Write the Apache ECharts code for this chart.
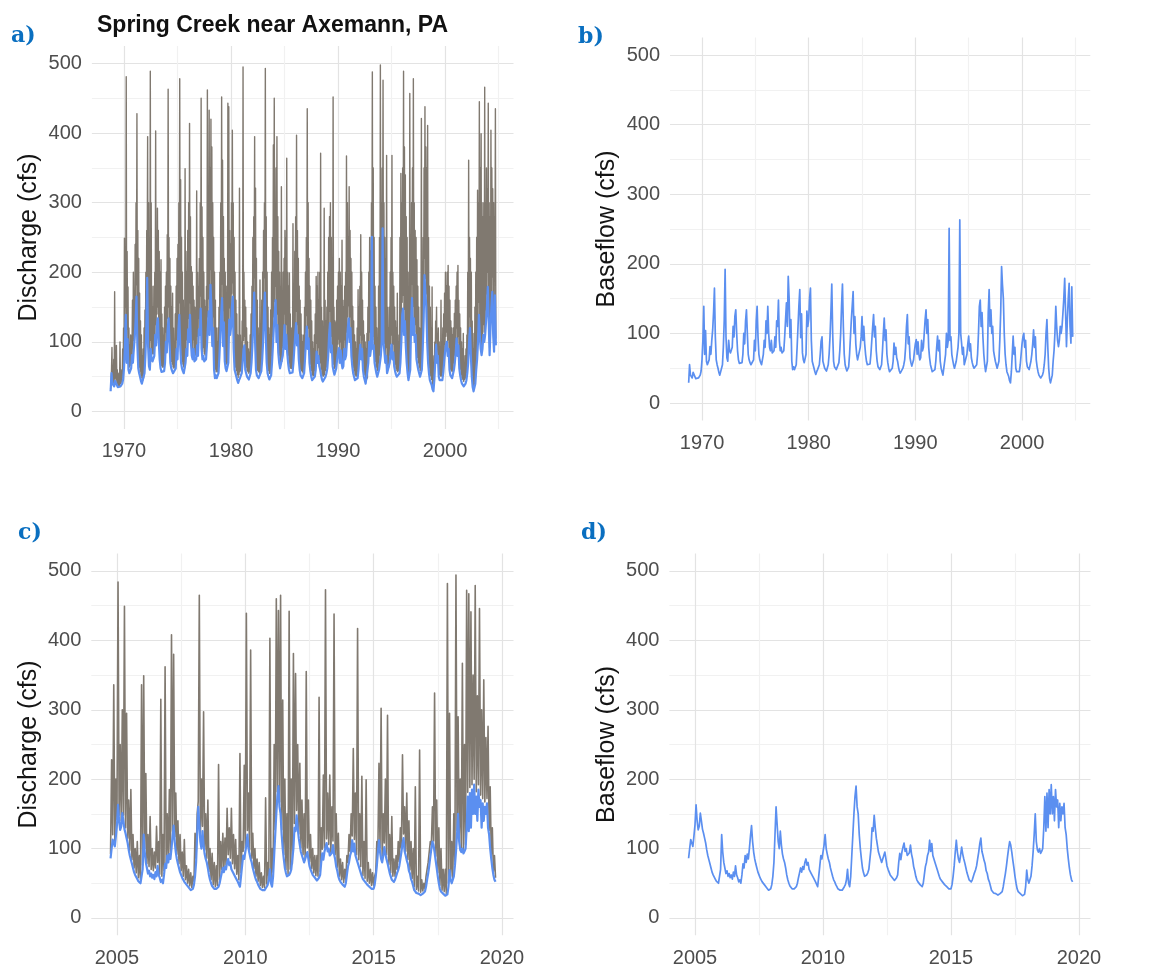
<!DOCTYPE html>
<html>
<head>
<meta charset="utf-8">
<script src="https://cdn.jsdelivr.net/npm/echarts@6/dist/echarts.min.js"></script>
<style>
  html, body { margin: 0; padding: 0; background: #ffffff; }
  #chart { width: 1161px; height: 971px; }
</style>
</head>
<body>
<div id="chart"></div>
<script>
// Spring Creek near Axemann, PA — discharge and baseflow, two record periods.
// Each row is one water year (October through September).

const earlyStart = 1968.75;   // 1 Oct 1968
const lateStart = 2004.75;    // 1 Oct 2004

// Discharge 1969–2004, two readings per month (cfs)
const dischargeEarly = [
  [33,45,60,92,45,60,42,75,40,172,48,70,46,95,42,60,38,55,37,45,36,100,40,50],
  [42,60,48,90,55,120,72,249,100,210,150,481,80,230,118,179,70,120,64,95,66,110,72,100],
  [92,160,80,200,102,170,118,240,146,300,182,428,108,260,72,220,64,170,58,130,52,110,48,80],
  [45,90,48,120,64,146,92,200,132,260,210,395,108,300,75,250,70,489,102,300,86,180,83,150],
  [83,180,92,200,125,403,108,250,140,292,150,260,114,230,86,200,72,218,66,140,64,120,64,110],
  [68,150,81,180,114,200,98,254,134,463,150,250,114,220,81,180,72,150,68,170,64,120,62,100],
  [64,140,72,180,103,220,86,240,134,300,156,478,108,333,81,250,72,200,68,160,64,150,62,349],
  [81,230,103,200,92,260,134,300,114,414,156,280,114,208,92,200,86,180,103,160,83,150,81,140],
  [86,317,108,200,92,180,134,220,125,300,166,450,103,294,86,250,92,200,83,160,81,150,86,180],
  [108,462,136,300,162,433,125,350,204,420,169,380,107,300,136,250,70,200,57,160,61,120,57,100],
  [57,120,64,150,92,200,125,300,158,452,183,361,107,280,145,220,83,200,72,180,68,150,70,443],
  [81,438,149,260,125,240,136,300,169,404,185,300,103,250,70,200,64,160,59,140,53,110,49,100],
  [53,321,57,110,59,100,64,130,81,495,102,200,108,160,70,150,64,120,59,100,57,90,55,85],
  [57,110,64,140,81,180,108,250,147,280,192,395,114,321,70,220,61,160,59,120,57,100,55,189],
  [57,120,68,160,86,200,114,260,158,300,192,493,125,280,81,200,64,150,59,120,55,110,55,146],
  [61,200,81,250,108,383,136,450,158,300,180,350,114,395,140,280,97,230,81,200,72,180,70,323],
  [72,160,92,200,108,220,140,260,103,250,125,364,97,200,81,180,70,199,64,140,62,120,62,110],
  [65,270,81,180,103,230,125,280,144,397,108,260,125,220,86,180,70,160,61,140,59,110,57,100],
  [55,110,64,150,86,200,114,250,138,435,103,300,120,220,81,180,68,160,59,130,53,100,51,90],
  [52,110,59,140,70,194,98,180,81,200,92,160,75,200,70,371,61,150,54,130,51,120,51,292],
  [53,160,59,130,64,150,72,200,92,250,125,280,144,300,97,250,108,220,75,452,68,150,62,130],
  [64,127,72,160,86,180,97,200,104,220,81,200,100,180,81,246,72,160,75,150,103,180,86,200],
  [92,367,114,300,136,250,152,323,114,260,136,220,92,200,75,151,64,130,59,110,53,100,51,90],
  [51,120,57,175,70,150,92,180,110,254,86,200,103,160,70,130,59,110,53,100,48,90,46,112],
  [48,150,81,200,114,250,92,230,103,300,200,488,103,350,108,250,81,180,72,150,64,120,59,100],
  [59,180,70,250,81,498,92,300,114,350,200,476,114,300,98,250,81,220,92,368,64,150,62,120],
  [64,150,81,200,97,250,110,368,86,200,97,180,75,150,68,130,62,120,59,170,57,100,59,110],
  [64,250,81,342,114,300,157,350,167,489,125,380,147,340,108,280,81,250,64,200,53,180,51,457],
  [70,250,147,300,183,350,125,478,151,300,114,260,125,250,86,218,78,180,70,150,64,120,59,110],
  [59,421,70,200,103,250,147,350,220,438,191,380,169,350,114,411,81,250,64,180,53,150,51,120],
  [46,179,39,80,36,60,53,100,81,130,110,150,81,103,92,120,59,100,53,90,51,160,51,100],
  [53,120,64,140,81,170,97,200,108,180,114,200,92,210,103,180,70,160,61,130,59,120,57,110],
  [59,120,70,141,81,160,97,180,120,200,92,210,108,160,72,140,61,120,53,100,48,90,46,112],
  [43,70,46,80,48,90,53,110,64,200,81,361,114,250,136,220,92,200,59,130,42,90,36,112],
  [37,150,48,200,70,250,86,318,114,300,157,445,125,350,103,399,92,300,103,280,125,300,114,466],
  [125,300,146,350,169,320,200,443,147,300,92,280,136,404,169,350,193,320,125,300,98,280,188,435],
  [105]
];

// Baseflow 1969–2004, one reading per month (cfs)
const baseflowEarly = [
  [29,55,40,38,36,44,42,38,35,34,33,36],
  [38,40,46,62,90,139,70,104,60,55,57,62],
  [81,70,90,105,130,165,95,62,55,50,44,40],
  [38,40,55,80,118,192,95,65,60,90,75,72],
  [72,80,110,95,125,134,100,75,62,57,55,55],
  [58,70,100,85,118,134,100,70,62,58,55,53],
  [55,62,90,75,118,139,95,70,62,58,55,53],
  [70,90,80,118,100,139,100,80,75,90,72,70],
  [75,95,80,118,110,148,90,75,80,72,70,75],
  [95,120,144,110,182,150,94,120,60,48,52,48],
  [48,55,80,110,140,163,94,128,72,62,58,60],
  [70,132,110,120,150,165,90,60,55,50,45,41],
  [45,48,50,55,70,89,95,60,55,50,48,46],
  [48,55,70,95,130,171,100,60,52,50,48,46],
  [48,58,75,100,140,171,110,70,55,50,46,46],
  [52,70,95,120,140,160,100,124,85,70,62,60],
  [62,80,95,124,90,110,85,70,60,55,53,53],
  [56,70,90,110,127,95,110,75,60,52,50,48],
  [46,55,75,100,122,90,105,70,58,50,45,43],
  [44,50,60,86,70,80,65,60,52,46,43,43],
  [45,50,55,62,80,110,127,85,95,65,58,53],
  [55,62,75,85,91,70,88,70,62,65,90,75],
  [80,100,120,134,100,120,80,65,55,50,45,43],
  [43,48,60,80,96,75,90,60,50,45,40,38],
  [40,70,100,80,90,251,90,95,70,62,55,50],
  [50,60,70,80,100,263,100,86,70,80,55,53],
  [55,70,85,96,75,85,65,58,53,50,48,50],
  [55,70,100,139,148,110,130,95,70,55,45,43],
  [60,130,163,110,134,100,110,75,67,60,55,50],
  [50,60,90,130,196,170,150,100,70,55,45,43],
  [38,32,29,45,70,96,70,80,50,45,43,43],
  [45,55,70,85,95,100,80,90,60,52,50,48],
  [50,60,70,85,105,80,95,62,52,45,40,38],
  [36,38,40,45,55,70,100,120,80,50,35,29],
  [30,40,60,75,100,139,110,90,81,90,110,100],
  [110,129,150,179,130,81,120,150,172,110,86,167],
  [95]
];

// Discharge 2005–2019, two readings per month (cfs)
const dischargeLate = [
  [92,228,120,336,110,200,142,484,148,250,140,300,148,449,130,295,115,170,97,185,84,120,72,100],
  [65,110,58,90,55,336,76,349,100,208,78,120,74,146,70,100,68,95,72,132,80,110,63,315],
  [60,120,68,362,78,150,86,185,92,408,125,380,117,180,92,140,78,120,68,95,60,113,55,75],
  [50,70,46,65,44,60,53,122,86,150,168,465,117,200,132,297,98,150,86,170,67,100,55,93],
  [48,80,45,75,47,221,55,110,70,122,72,115,76,158,91,130,86,158,78,120,71,113,63,90],
  [55,237,65,110,96,220,101,439,126,180,98,386,86,122,71,100,60,85,53,80,47,65,44,60],
  [44,173,49,80,60,403,55,100,66,250,127,460,182,443,167,465,127,314,91,200,70,150,63,442],
  [70,200,78,381,136,352,155,250,121,223,101,170,91,150,84,355,101,170,81,120,71,100,65,90],
  [61,90,60,318,67,130,99,206,101,473,114,180,106,206,94,160,111,438,91,150,73,122,60,85],
  [55,80,51,70,55,90,80,120,96,150,118,244,113,180,91,417,84,150,74,204,61,110,57,199],
  [53,80,50,70,47,65,47,60,66,110,101,223,101,302,86,150,108,200,91,292,77,120,65,146],
  [60,85,60,90,70,110,81,130,101,235,121,160,96,180,84,140,69,110,57,100,45,189,41,60],
  [39,242,37,55,39,50,42,60,60,80,81,110,106,160,111,324,89,170,65,130,47,100,40,70],
  [38,70,35,482,50,295,60,110,57,150,81,494,126,290,116,200,101,367,99,250,106,472,181,467],
  [188,441,192,350,200,479,182,320,192,446,177,300,172,343,167,260,172,276,126,189,90,130,67,90],
  [58]
];

// Baseflow 2005–2019, two readings per month (cfs)
const baseflowLate = [
  [86,100,113,108,103,118,134,163,140,127,132,151,140,128,122,115,108,98,90,84,78,72,66,62],
  [60,56,53,51,50,52,70,120,95,80,72,64,68,60,64,58,62,56,66,60,75,62,58,52],
  [55,50,62,78,72,90,80,92,85,100,118,133,110,95,85,78,72,66,62,58,55,52,50,48],
  [46,44,42,40,40,42,48,60,80,120,160,135,110,100,125,105,92,85,80,72,62,55,50,46],
  [44,42,41,42,43,45,50,58,65,72,66,74,70,80,85,76,80,70,72,64,66,58,58,52],
  [50,45,60,75,90,85,95,105,120,100,92,85,80,72,66,60,55,52,48,45,42,40,40,38],
  [40,42,45,48,55,70,50,45,60,90,120,150,175,190,160,150,120,100,85,72,65,60,58,62],
  [65,70,72,100,130,125,148,130,115,105,95,90,85,80,78,90,95,85,75,70,66,62,60,58],
  [56,54,55,58,62,80,93,84,95,102,108,96,100,90,88,94,105,92,85,74,68,60,55,52],
  [50,48,46,45,50,62,74,80,90,95,112,96,107,90,85,80,78,70,68,60,56,54,52,50],
  [48,46,45,44,42,40,42,48,60,75,95,112,95,85,80,90,102,92,85,79,72,65,60,55],
  [55,52,55,60,65,69,75,85,95,107,115,96,90,83,78,68,64,56,52,46,40,38,36,35],
  [35,34,33,34,35,36,38,45,55,64,75,88,100,110,105,95,83,72,60,50,42,38,36,35],
  [34,32,31,34,45,69,55,50,52,60,75,95,120,150,110,98,95,100,93,96,100,130,175,125],
  [180,130,185,150,192,150,175,140,185,160,170,130,165,140,160,150,165,130,120,100,85,72,62,55],
  [52]
];

const yTicks = [0, 100, 200, 300, 400, 500];
const earlyYearLabels = [1970, 1980, 1990, 2000];
const lateYearLabels = [2005, 2010, 2015, 2020];

// Turn water-year rows into [decimal year, value] pairs
function series(rows, start, perYear) {
  return rows.flat().map((v, i) => [start + i / perYear, v]);
}

const FONT = '"Liberation Sans", Arial, Helvetica, sans-serif';
const MAJOR = '#e3e3e3';
const MINOR = '#f1f1f1';
const CLEAR = 'rgba(0,0,0,0)';
const BROWN = '#807970';
const BLUE = '#5b8ff0';

function near(v, t) { return Math.abs(v - t) < 1e-6; }

function yAxisFor(gridIndex, name) {
  return {
    type: 'value', gridIndex, min: -25, max: 525, interval: 25,
    axisLine: { show: false }, axisTick: { show: false },
    axisLabel: {
      fontFamily: FONT, fontSize: 20, color: '#4d4d4d', margin: 10,
      formatter: v => (yTicks.some(t => near(v, t)) ? String(Math.round(v)) : '')
    },
    // ticks every 25: -25, 0, 25, 50, ... → blank, major, blank, minor
    splitLine: { show: true, lineStyle: { width: 1.2, color: [CLEAR, MAJOR, CLEAR, MINOR] } },
    name, nameLocation: 'middle', nameGap: 50,
    nameTextStyle: { fontFamily: FONT, fontSize: 25, color: '#141414' }
  };
}

function xAxisFor(gridIndex, min, max, interval, colors, labels) {
  return {
    type: 'value', gridIndex, min, max, interval,
    axisLine: { show: false }, axisTick: { show: false },
    axisLabel: {
      fontFamily: FONT, fontSize: 20, color: '#4d4d4d', margin: 13,
      formatter: v => { const hit = labels.find(t => near(v, t)); return hit === undefined ? '' : String(hit); }
    },
    splitLine: { show: true, lineStyle: { width: 1.2, color: colors } }
  };
}

// yearly ticks from 1967: decades major, mid-decades minor
const earlyColors = [CLEAR, CLEAR, CLEAR, MAJOR, CLEAR, CLEAR, CLEAR, CLEAR, MINOR, CLEAR];
// half-year ticks from 2004: 5-year major, 2.5-year minor
const lateColors = [CLEAR, CLEAR, MAJOR, CLEAR, CLEAR, CLEAR, CLEAR, MINOR, CLEAR, CLEAR];

function line(data, xi, color, width, z) {
  return {
    type: 'line', data, xAxisIndex: xi, yAxisIndex: xi,
    showSymbol: false, symbol: 'none', silent: true, animation: false, z,
    lineStyle: { color, width, join: 'round' }
  };
}

const panelLabel = (text, left, top) => ({
  text, left, top,
  textStyle: { fontFamily: '"DejaVu Serif", serif', fontWeight: 'bold', fontSize: 22, color: '#0a6fc0' }
});

const option = {
  backgroundColor: '#ffffff',
  animation: false,
  title: [
    { text: 'Spring Creek near Axemann, PA', left: 92, top: 9,
      textStyle: { fontFamily: FONT, fontWeight: 'bold', fontSize: 23, color: '#111111' } },
    panelLabel('a)', 6, 20),
    panelLabel('b)', 573, 21),
    panelLabel('c)', 13, 517),
    panelLabel('d)', 576, 517)
  ],
  grid: [
    { left: 91.9, top: 46.1, width: 421.6, height: 382.8 },
    { left: 670, top: 37.6, width: 420.3, height: 382.8 },
    { left: 91.3, top: 553.6, width: 422.2, height: 381.7 },
    { left: 669.4, top: 553.6, width: 421.1, height: 381.7 }
  ],
  xAxis: [
    xAxisFor(0, 1967, 2006.4, 1, earlyColors, earlyYearLabels),
    xAxisFor(1, 1967, 2006.4, 1, earlyColors, earlyYearLabels),
    xAxisFor(2, 2004, 2020.45, 0.5, lateColors, lateYearLabels),
    xAxisFor(3, 2004, 2020.45, 0.5, lateColors, lateYearLabels)
  ],
  yAxis: [
    yAxisFor(0, 'Discharge (cfs)'),
    yAxisFor(1, 'Baseflow (cfs)'),
    yAxisFor(2, 'Discharge (cfs)'),
    yAxisFor(3, 'Baseflow (cfs)')
  ],
  series: [
    line(series(dischargeEarly, earlyStart, 24), 0, BROWN, 1.4, 2),
    line(series(baseflowEarly, earlyStart, 12), 0, BLUE, 2.2, 3),
    line(series(baseflowEarly, earlyStart, 12), 1, BLUE, 1.7, 3),
    line(series(dischargeLate, lateStart, 24), 2, BROWN, 1.6, 2),
    line(series(baseflowLate, lateStart, 24), 2, BLUE, 2.2, 3),
    line(series(baseflowLate, lateStart, 24), 3, BLUE, 1.7, 3)
  ]
};

const chart = echarts.init(document.getElementById('chart'), null, { renderer: 'canvas' });
chart.setOption(option);
</script>
</body>
</html>
